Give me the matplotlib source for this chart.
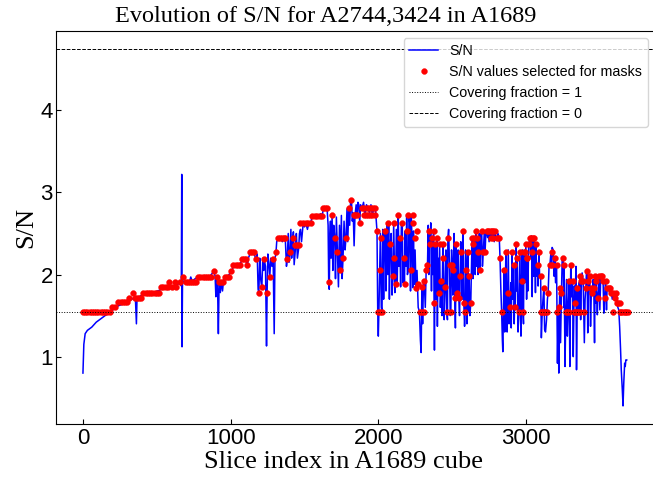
import matplotlib.pyplot as plt

# S/N curve (slice index, S/N)
sn_a = [(0, 0.80), (6, 1.15), (15, 1.28), (30, 1.32), (60, 1.36), (90, 1.42), (120, 1.46),
        (150, 1.50), (180, 1.54), (210, 1.58), (240, 1.62), (270, 1.64), (300, 1.66),
        (330, 1.70), (355, 1.72), (362, 1.40), (366, 1.70), (372, 1.72), (400, 1.75),
        (430, 1.76), (460, 1.78), (490, 1.79), (520, 1.81), (550, 1.84), (580, 1.86),
        (610, 1.85), (640, 1.88), (660, 1.90), (666, 1.86), (669, 3.22), (671, 1.12),
        (674, 1.88), (680, 1.92), (700, 1.92), (720, 1.90), (730, 1.97), (740, 1.92),
        (760, 1.95), (780, 1.97)]
sn_b = [(800, 1.97), (830, 1.98), (860, 1.98), (887, 2.04), (895, 1.98), (900, 1.73),
        (905, 1.97), (912, 1.80), (917, 1.28), (922, 1.92), (930, 1.78), (938, 1.92),
        (945, 1.80), (952, 1.93), (960, 1.97), (975, 1.98), (990, 2.00), (1000, 2.04),
        (1010, 2.06), (1020, 2.10), (1040, 2.11), (1063, 2.12), (1075, 2.17), (1090, 2.18),
        (1101, 2.19), (1113, 2.10), (1120, 2.20), (1131, 2.25), (1145, 2.26), (1158, 2.27),
        (1165, 2.22), (1173, 2.17), (1180, 2.25), (1186, 1.82), (1191, 1.78), (1197, 2.20),
        (1203, 1.95), (1211, 1.84), (1218, 2.20), (1224, 2.05), (1229, 2.17), (1236, 2.10),
        (1243, 1.13), (1247, 1.78), (1252, 2.25), (1258, 2.15), (1265, 1.975), (1272, 2.20),
        (1280, 2.10), (1288, 2.17), (1295, 1.28), (1300, 2.20), (1306, 2.24), (1312, 2.40),
        (1320, 2.44), (1330, 2.42), (1340, 2.45), (1350, 2.40), (1360, 2.44), (1371, 2.40),
        (1378, 2.10), (1383, 2.17), (1390, 2.50), (1395, 2.15), (1401, 2.24), (1408, 2.55),
        (1413, 2.20), (1419, 2.39), (1425, 2.52), (1430, 2.12), (1439, 2.32), (1445, 2.50),
        (1452, 2.20), (1461, 2.32), (1466, 2.50), (1473, 2.55), (1480, 2.40), (1490, 2.60),
        (1500, 2.58), (1510, 2.62), (1520, 2.55), (1530, 2.63), (1541, 2.63), (1552, 2.70),
        (1565, 2.72), (1580, 2.70), (1595, 2.72), (1610, 2.74), (1620, 2.72), (1628, 2.80),
        (1640, 2.82), (1653, 2.81), (1660, 2.60), (1664, 1.91), (1668, 1.82)]
sn_c = [(1672, 2.50), (1676, 2.65), (1680, 2.20), (1687, 2.72), (1692, 2.05), (1698, 2.60),
        (1705, 2.45), (1710, 1.95), (1716, 2.70), (1723, 2.28), (1730, 1.85), (1737, 2.60),
        (1743, 2.05), (1750, 2.72), (1755, 1.95), (1761, 2.20), (1768, 2.65), (1775, 2.30),
        (1781, 2.45), (1788, 2.80), (1793, 2.40), (1800, 2.81), (1806, 2.60), (1812, 2.88),
        (1818, 2.91), (1824, 2.65), (1830, 2.75), (1836, 2.35), (1842, 2.72), (1850, 2.85),
        (1856, 2.72), (1862, 2.88), (1868, 2.85), (1874, 2.63), (1880, 2.85), (1890, 2.81),
        (1900, 2.88), (1910, 2.72), (1920, 2.85), (1930, 2.81), (1940, 2.75), (1950, 2.85),
        (1960, 2.72), (1970, 2.82), (1980, 2.81), (1986, 2.65), (1991, 2.53), (1996, 1.55),
        (2000, 1.25), (2004, 1.55), (2009, 2.05), (2014, 2.50), (2020, 1.60), (2025, 1.55),
        (2030, 2.55), (2036, 1.70), (2041, 2.45), (2047, 2.53), (2052, 1.80), (2058, 2.63),
        (2064, 2.00), (2070, 2.60), (2075, 1.70), (2081, 2.37), (2087, 2.50), (2093, 1.75),
        (2099, 1.98), (2104, 2.63), (2108, 2.20), (2112, 1.78), (2117, 1.88), (2122, 2.55),
        (2128, 1.90), (2135, 2.72), (2140, 2.10), (2146, 2.45), (2151, 1.85), (2156, 2.60),
        (2162, 2.63), (2167, 1.90), (2172, 2.20), (2177, 1.88), (2182, 2.53), (2187, 2.10),
        (2192, 2.72), (2197, 2.00), (2203, 2.05), (2208, 2.70), (2213, 2.63), (2218, 1.80),
        (2223, 2.72), (2228, 2.45), (2233, 1.84), (2238, 2.53), (2243, 1.88), (2249, 2.30),
        (2255, 1.84), (2262, 2.05), (2270, 1.60), (2278, 1.55), (2285, 1.20), (2290, 1.05),
        (2295, 1.85), (2300, 1.40), (2306, 1.92)]
sn_d = [(2311, 1.92), (2318, 1.60), (2324, 2.05), (2333, 2.12), (2338, 2.60), (2342, 2.00),
        (2345, 2.53), (2351, 2.37), (2355, 2.63), (2360, 1.80), (2363, 2.45), (2368, 2.00),
        (2374, 2.53), (2378, 1.65), (2380, 1.08), (2385, 2.37), (2390, 1.70), (2396, 2.45),
        (2400, 1.37), (2404, 2.20), (2408, 1.78), (2415, 2.37), (2420, 1.60), (2426, 1.92),
        (2431, 1.50), (2437, 2.37), (2441, 2.20), (2446, 1.45), (2453, 1.85), (2458, 2.30),
        (2464, 1.55), (2468, 1.45), (2471, 2.45), (2476, 2.55), (2482, 2.12), (2487, 1.50),
        (2491, 1.55), (2496, 2.30), (2500, 2.12), (2505, 1.75), (2509, 2.05), (2513, 2.50),
        (2518, 1.72), (2522, 1.35), (2527, 2.37), (2531, 1.90), (2536, 1.78), (2540, 2.30),
        (2545, 1.72), (2550, 1.50), (2554, 1.98), (2558, 2.40), (2563, 2.28), (2568, 1.70),
        (2572, 2.53), (2576, 2.20), (2579, 1.65), (2584, 1.37), (2588, 1.55), (2591, 2.30),
        (2595, 2.05), (2600, 1.40), (2606, 2.28), (2610, 1.55), (2615, 1.98), (2620, 1.50),
        (2626, 1.65), (2632, 2.20), (2637, 2.45), (2641, 1.95), (2644, 2.37), (2648, 2.05),
        (2651, 2.45), (2656, 2.00), (2660, 2.53), (2665, 2.10), (2671, 2.45), (2675, 2.00),
        (2678, 2.28), (2684, 2.50), (2689, 2.05), (2694, 2.48), (2700, 2.53), (2705, 2.10),
        (2711, 2.28), (2717, 2.50), (2723, 2.28), (2728, 2.50), (2734, 2.53), (2740, 2.45),
        (2745, 2.53), (2750, 2.40), (2757, 2.53), (2761, 2.45), (2768, 2.55), (2775, 2.45),
        (2779, 2.53), (2785, 2.40), (2790, 2.53), (2796, 2.42), (2802, 2.45), (2810, 2.50),
        (2819, 2.45), (2824, 2.20), (2830, 1.80), (2835, 1.55), (2840, 1.20), (2843, 1.06),
        (2847, 1.50), (2851, 2.05), (2856, 1.30), (2860, 1.90), (2864, 2.28), (2869, 1.50),
        (2872, 1.30), (2876, 1.78), (2880, 2.30), (2885, 1.40), (2892, 1.60), (2897, 1.90),
        (2900, 1.35), (2905, 2.28), (2910, 1.70), (2916, 2.12), (2920, 1.40), (2924, 1.75),
        (2927, 1.60), (2932, 2.37), (2936, 1.80), (2941, 2.20), (2946, 1.30), (2952, 1.55),
        (2955, 1.90), (2959, 2.28), (2963, 1.50), (2966, 1.25), (2970, 1.92), (2975, 2.30),
        (2979, 1.55), (2983, 1.40), (2986, 2.28), (2992, 1.90), (2999, 2.37), (3004, 1.70),
        (3009, 2.20), (3013, 1.80), (3018, 2.37)]
sn_e = [(3022, 2.40), (3027, 2.45), (3032, 2.20), (3038, 2.47), (3042, 1.73), (3046, 2.45),
        (3052, 1.98), (3056, 2.45), (3060, 2.30), (3064, 1.78), (3067, 2.37), (3072, 1.98),
        (3078, 2.12), (3082, 1.86), (3087, 2.28), (3092, 2.00), (3099, 1.98), (3104, 1.23),
        (3110, 1.55), (3115, 1.70), (3121, 1.84), (3126, 1.33), (3132, 1.30), (3139, 1.45),
        (3145, 1.70), (3150, 1.78), (3156, 2.10), (3162, 2.12), (3168, 2.25), (3173, 2.12),
        (3177, 2.33), (3184, 2.30), (3190, 1.98), (3195, 2.20), (3200, 1.90), (3207, 2.12),
        (3213, 0.92), (3218, 1.55), (3222, 0.80), (3226, 1.60), (3229, 1.84), (3234, 1.17),
        (3240, 1.78), (3245, 2.18), (3252, 2.20), (3256, 1.60), (3258, 2.12), (3264, 0.88),
        (3270, 1.55), (3275, 1.94), (3280, 1.25), (3285, 1.55), (3292, 1.92), (3297, 0.88),
        (3303, 2.12), (3308, 1.73), (3315, 1.92), (3320, 1.00), (3324, 1.55), (3328, 1.86),
        (3333, 1.65), (3338, 2.10), (3342, 0.84), (3348, 1.84), (3352, 1.55), (3358, 1.90),
        (3364, 1.55), (3366, 1.98), (3370, 1.45), (3375, 1.92), (3380, 2.02), (3387, 1.92),
        (3391, 1.55), (3395, 1.17), (3400, 1.70), (3405, 1.84), (3410, 2.06), (3414, 2.04),
        (3418, 1.29), (3423, 1.92), (3428, 2.00), (3432, 1.98), (3437, 1.37), (3443, 1.84),
        (3450, 1.78), (3455, 1.94), (3459, 1.84), (3464, 1.17), (3468, 1.98), (3473, 1.65),
        (3477, 1.92), (3483, 1.51), (3486, 1.72), (3492, 1.82), (3495, 1.98), (3500, 1.57),
        (3506, 1.98), (3511, 2.00), (3517, 1.98), (3522, 1.92), (3527, 1.53), (3533, 1.72),
        (3537, 1.90), (3540, 1.92), (3545, 1.57), (3549, 1.84), (3555, 1.82), (3560, 1.84),
        (3566, 1.78), (3571, 1.84), (3578, 1.78), (3584, 1.70), (3589, 1.78), (3594, 1.73),
        (3600, 1.72), (3606, 1.78), (3612, 1.75), (3616, 1.65), (3622, 1.60), (3628, 1.57),
        (3634, 1.37), (3640, 1.10), (3645, 0.84), (3652, 0.60), (3657, 0.40), (3662, 0.68),
        (3668, 0.92), (3672, 0.88), (3676, 0.96), (3682, 0.96)]

# S/N values selected for masks (red dots)
mask_a = [(0, 1.545), (15, 1.545), (30, 1.545), (45, 1.545), (60, 1.545), (75, 1.545),
          (90, 1.545), (105, 1.545), (120, 1.545), (135, 1.545), (150, 1.545), (165, 1.545),
          (180, 1.545), (200, 1.61), (215, 1.61), (240, 1.66), (255, 1.66), (270, 1.66),
          (285, 1.66), (300, 1.66), (310, 1.72), (340, 1.78), (350, 1.72), (365, 1.72),
          (380, 1.72), (395, 1.72), (410, 1.78), (425, 1.78), (440, 1.78), (455, 1.78),
          (470, 1.78), (485, 1.78), (500, 1.78), (515, 1.78), (530, 1.845), (545, 1.845),
          (560, 1.845), (575, 1.845), (580, 1.91), (600, 1.845), (620, 1.91), (630, 1.845),
          (660, 1.91), (675, 1.975), (695, 1.91), (710, 1.91), (725, 1.91), (740, 1.91),
          (755, 1.91), (765, 1.91), (780, 1.975), (795, 1.975), (810, 1.975), (825, 1.975),
          (840, 1.975), (855, 1.975), (865, 1.975)]
mask_b = [(887, 2.04), (905, 1.975), (920, 1.91), (935, 1.91), (950, 1.91), (960, 1.975),
          (975, 1.975), (990, 1.975), (1000, 2.04), (1018, 2.12), (1033, 2.12), (1048, 2.12),
          (1063, 2.12), (1079, 2.195), (1090, 2.195), (1101, 2.195), (1113, 2.12), (1131, 2.28),
          (1145, 2.28), (1158, 2.28), (1173, 2.195), (1191, 1.78), (1211, 1.845), (1229, 2.195),
          (1247, 1.78), (1265, 1.975), (1288, 2.195), (1306, 2.28), (1320, 2.44), (1333, 2.44),
          (1346, 2.44), (1359, 2.44), (1371, 2.44), (1383, 2.195), (1401, 2.28), (1419, 2.44),
          (1439, 2.36), (1450, 2.36), (1461, 2.36), (1473, 2.63), (1490, 2.63), (1507, 2.63),
          (1524, 2.63), (1541, 2.63), (1552, 2.71), (1568, 2.71), (1585, 2.71), (1603, 2.71),
          (1620, 2.71), (1628, 2.81), (1640, 2.81), (1653, 2.81), (1664, 1.91)]
mask_c = [(1687, 2.72), (1705, 2.45), (1723, 2.28), (1743, 2.05), (1761, 2.20), (1781, 2.45),
          (1800, 2.81), (1818, 2.91), (1833, 2.72), (1845, 2.72), (1856, 2.72), (1874, 2.63),
          (1890, 2.81), (1900, 2.72), (1905, 2.81), (1915, 2.72), (1920, 2.81), (1930, 2.72),
          (1935, 2.81), (1945, 2.72), (1950, 2.81), (1960, 2.72), (1965, 2.81), (1975, 2.72),
          (1980, 2.81), (1991, 2.53), (1998, 1.545), (2009, 2.05), (2012, 1.545), (2020, 2.45),
          (2025, 1.545), (2047, 2.53), (2063, 2.63), (2081, 2.37), (2099, 1.98), (2106, 2.63),
          (2108, 2.20), (2117, 1.88), (2135, 2.72), (2146, 2.45), (2162, 2.63), (2175, 2.20),
          (2182, 1.88), (2191, 2.53), (2200, 2.72), (2220, 2.05), (2232, 2.63), (2236, 2.72),
          (2247, 2.45), (2254, 1.84), (2261, 2.53), (2272, 1.88), (2284, 1.545), (2297, 1.545)]
mask_d = [(2295, 1.85), (2311, 1.92), (2311, 1.545), (2324, 2.05), (2333, 2.12), (2345, 2.53),
          (2351, 2.37), (2363, 2.45), (2374, 2.53), (2378, 1.65), (2385, 2.37), (2396, 2.45),
          (2408, 1.78), (2415, 2.37), (2426, 1.92), (2437, 2.37), (2441, 2.20), (2453, 1.85),
          (2464, 1.545), (2471, 2.45), (2482, 2.12), (2491, 1.545), (2500, 2.12), (2509, 2.05),
          (2518, 1.72), (2527, 2.37), (2536, 1.78), (2545, 1.72), (2554, 1.98), (2563, 2.28),
          (2572, 2.53), (2579, 1.65), (2588, 1.545), (2595, 2.05), (2606, 2.28), (2615, 1.98),
          (2626, 1.65), (2637, 2.45), (2644, 2.37), (2651, 2.45), (2660, 2.53), (2671, 2.45),
          (2678, 2.28), (2689, 2.05), (2700, 2.53), (2711, 2.28), (2723, 2.28), (2734, 2.53),
          (2745, 2.53), (2757, 2.53), (2761, 2.45), (2768, 2.53), (2775, 2.45), (2779, 2.53),
          (2790, 2.53), (2802, 2.45), (2819, 2.45), (2824, 2.20), (2835, 1.545), (2851, 2.05),
          (2864, 2.28), (2876, 1.78), (2892, 1.60), (2905, 2.28), (2916, 2.12), (2927, 1.60),
          (2932, 2.37), (2941, 2.20), (2952, 1.545), (2959, 2.28), (2970, 1.92), (2979, 1.545),
          (2986, 2.28), (2999, 2.37), (3009, 2.20), (3018, 2.37)]
mask_e = [(2993, 2.28), (3004, 2.20), (3027, 2.45), (3034, 2.45), (3042, 2.28), (3049, 2.45),
          (3056, 2.45), (3067, 2.37), (3078, 2.12), (3087, 2.28), (3099, 1.98), (3099, 1.545),
          (3110, 1.545), (3121, 1.545), (3121, 1.84), (3132, 1.545), (3139, 1.545), (3150, 1.78),
          (3162, 2.12), (3173, 2.12), (3177, 2.28), (3195, 2.20), (3207, 2.12), (3213, 1.545),
          (3222, 1.60), (3229, 1.84), (3240, 1.78), (3252, 2.20), (3258, 2.12), (3270, 1.545),
          (3280, 1.545), (3292, 1.545), (3292, 1.92), (3303, 2.12), (3315, 1.92), (3324, 1.545),
          (3333, 1.545), (3333, 1.65), (3342, 1.545), (3348, 1.84), (3352, 1.545), (3364, 1.545),
          (3366, 1.98), (3375, 1.92), (3387, 1.92), (3391, 1.545), (3405, 1.84), (3414, 2.04),
          (3423, 1.92), (3432, 1.98), (3443, 1.84), (3450, 1.78), (3459, 1.84), (3468, 1.98),
          (3477, 1.92), (3486, 1.72), (3495, 1.98), (3506, 1.98), (3517, 1.98), (3522, 1.92),
          (3533, 1.72), (3540, 1.92), (3549, 1.84), (3560, 1.84), (3571, 1.84), (3578, 1.78),
          (3589, 1.78), (3589, 1.545), (3600, 1.72), (3612, 1.78), (3616, 1.65), (3625, 1.65),
          (3634, 1.65), (3634, 1.545), (3645, 1.545), (3657, 1.545), (3668, 1.545),
          (3679, 1.545), (3690, 1.545)]

cover_full = 1.545   # covering fraction = 1
cover_none = 4.75    # covering fraction = 0

sn_x, sn_y = zip(*(sn_a + sn_b + sn_c + sn_d + sn_e))
mask_x, mask_y = zip(*(mask_a + mask_b + mask_c + mask_d + mask_e))

plt.rcParams['font.family'] = ['Liberation Sans', 'DejaVu Sans']

fig = plt.figure(figsize=(6.53, 4.84), dpi=100)
# the original figure is cropped on the right, so the axes run off the edge
ax = fig.add_axes([0.0853, 0.124, 0.918, 0.8126])

ax.plot(sn_x, sn_y, color='blue', lw=1.1, label='S/N')
ax.plot(mask_x, mask_y, 'o', color='red', ms=4.2, mec='red', mew=0.3,
        label='S/N values selected for masks')
ax.axhline(cover_full, color='k', ls=':', lw=0.7, label='Covering fraction = 1')
ax.axhline(cover_none, color='k', ls='--', lw=0.7, label='Covering fraction = 0')

ax.set_xlim(-184.5, 3874.5)
ax.set_ylim(0.18, 4.97)
ax.set_xticks([0, 1000, 2000, 3000])
ax.set_yticks([1, 2, 3, 4])
ax.tick_params(direction='in', labelsize=16, top=False, right=False)
ax.tick_params(axis='y', pad=2)
ax.tick_params(axis='x', pad=3)

ax.set_title('Evolution of S/N for A2744,3424 in A1689', family='Liberation Serif',
             fontsize=17.5, x=0.451)
ax.set_xlabel('Slice index in A1689 cube', family='Liberation Serif', fontsize=19,
              labelpad=1, x=0.48)
ax.set_ylabel('S/N', family='Liberation Serif', fontsize=19, labelpad=2)

ax.legend(loc='upper right', fontsize=10.3)

fig.savefig('out.png', dpi=100)
